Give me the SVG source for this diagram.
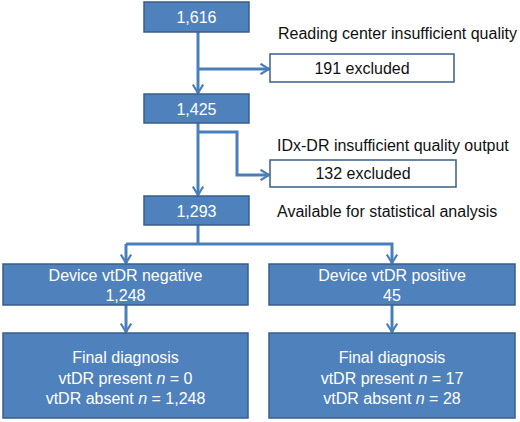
<svg xmlns="http://www.w3.org/2000/svg" width="520" height="422" viewBox="0 0 520 422">
<style>
.box{fill:#4F81BD;stroke:#385D8A;stroke-width:1.5}
.wbox{fill:#fff;stroke:#385D8A;stroke-width:1.5}
.wt{font-family:"Liberation Sans",Arial,sans-serif;font-size:16px;fill:#fff;text-anchor:middle}
.bt{font-family:"Liberation Sans",Arial,sans-serif;font-size:16px;fill:#111}
.bc{text-anchor:middle}
.ln{fill:none;stroke:#4A7EBB;stroke-width:3;stroke-linejoin:miter}
.ar{marker-end:url(#arr)}
</style>
<defs>
<marker id="arr" viewBox="0 0 12 12" refX="10" refY="6" markerWidth="12" markerHeight="12" markerUnits="userSpaceOnUse" orient="auto">
<path d="M1.5,0.8 L10,6 L1.5,11.2" fill="none" stroke="#4A7EBB" stroke-width="2.2"/>
</marker>
</defs>
<g id="connectors">
<path class="ln ar" d="M198,32 V93"/>
<path class="ln ar" d="M198,69 H269"/>
<path class="ln ar" d="M198,123 V195"/>
<path class="ln ar" d="M198,132 H237 V175 H269"/>
<path class="ln" d="M198,225 V244"/>
<path class="ln ar" d="M126,244 V263"/>
<path class="ln ar" d="M126,244 H392 V263"/>
<path class="ln ar" d="M126,305 V332"/>
<path class="ln ar" d="M392,305 V332"/>
</g>
<g id="n1616">
<rect class="box" x="144" y="2" width="105" height="30"/>
<text class="wt" x="196.5" y="23">1,616</text>
</g>
<g id="lbl-reading">
<text class="bt" x="278" y="39">Reading center insufficient quality</text>
</g>
<g id="n191">
<rect class="wbox" x="270" y="54" width="184" height="28"/>
<text class="bt bc" x="362" y="74">191 excluded</text>
</g>
<g id="n1425">
<rect class="box" x="144" y="94" width="105" height="29"/>
<text class="wt" x="196.5" y="115">1,425</text>
</g>
<g id="lbl-idx">
<text class="bt" x="277" y="151">IDx-DR insufficient quality output</text>
</g>
<g id="n132">
<rect class="wbox" x="270" y="160" width="186" height="27"/>
<text class="bt bc" x="363" y="179">132 excluded</text>
</g>
<g id="n1293">
<rect class="box" x="144" y="196" width="105" height="29"/>
<text class="wt" x="196.5" y="217">1,293</text>
</g>
<g id="lbl-avail">
<text class="bt" x="277" y="217">Available for statistical analysis</text>
</g>
<g id="neg">
<rect class="box" x="3" y="264" width="245" height="41"/>
<text class="wt" x="125.5" y="281">Device vtDR negative</text>
<text class="wt" x="125.5" y="301">1,248</text>
</g>
<g id="pos">
<rect class="box" x="269" y="264" width="246" height="41"/>
<text class="wt" x="392" y="281">Device vtDR positive</text>
<text class="wt" x="392" y="301">45</text>
</g>
<g id="finalneg">
<rect class="box" x="3" y="333" width="245" height="85"/>
<text class="wt" x="125.5" y="363">Final diagnosis</text>
<text class="wt" x="125.5" y="384">vtDR present <tspan font-style="italic">n</tspan> = 0</text>
<text class="wt" x="125.5" y="404">vtDR absent <tspan font-style="italic">n</tspan> = 1,248</text>
</g>
<g id="finalpos">
<rect class="box" x="269" y="333" width="246" height="85"/>
<text class="wt" x="392" y="363">Final diagnosis</text>
<text class="wt" x="392" y="384">vtDR present <tspan font-style="italic">n</tspan> = 17</text>
<text class="wt" x="392" y="404">vtDR absent <tspan font-style="italic">n</tspan> = 28</text>
</g>
</svg>
